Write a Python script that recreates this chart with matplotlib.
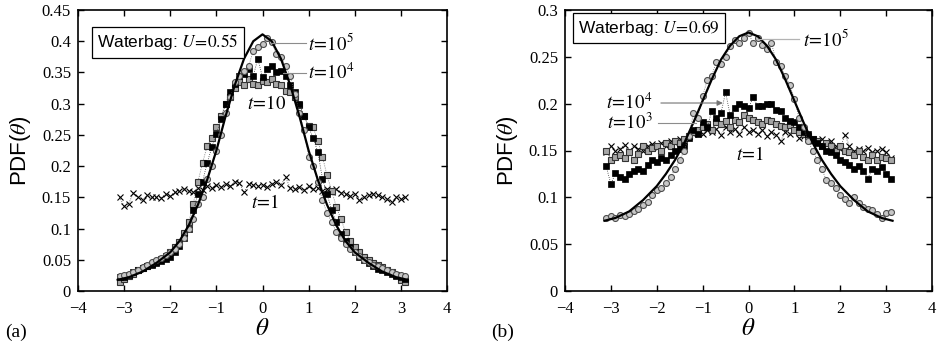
import numpy as np
import matplotlib.pyplot as plt

# theta grid: -3.1 .. 3.1 step 0.1 (63 points)
theta = np.round(np.arange(-31, 32) / 10.0, 2)

# theory curves (solid)
theta_th = [-3.14, -2.9, -2.6, -2.3, -2.0, -1.8, -1.6, -1.4, -1.2, -1.0, -0.8, -0.6, -0.4, -0.2, 0.0,
            0.2, 0.4, 0.6, 0.8, 1.0, 1.2, 1.4, 1.6, 1.8, 2.0, 2.3, 2.6, 2.9, 3.14]
th_a = [0.018, 0.022, 0.031, 0.045, 0.062, 0.080, 0.105, 0.138, 0.178, 0.225, 0.280, 0.330, 0.372, 0.400, 0.411,
        0.400, 0.372, 0.330, 0.280, 0.225, 0.178, 0.138, 0.105, 0.080, 0.062, 0.045, 0.031, 0.022, 0.018]
th_b = [0.075, 0.078, 0.085, 0.097, 0.112, 0.125, 0.140, 0.158, 0.180, 0.203, 0.226, 0.247, 0.262, 0.272, 0.276,
        0.272, 0.262, 0.247, 0.226, 0.203, 0.180, 0.158, 0.140, 0.125, 0.112, 0.097, 0.085, 0.078, 0.075]

# panel (a), U = 0.55
a_t1 = [0.150, 0.136, 0.140, 0.157, 0.150, 0.146, 0.153, 0.150, 0.151, 0.149, 0.155, 0.152, 0.158, 0.160,
        0.163, 0.160, 0.158, 0.165, 0.162, 0.168, 0.165, 0.170, 0.167, 0.172, 0.168, 0.175, 0.173, 0.158,
        0.172, 0.170, 0.168, 0.170, 0.166, 0.172, 0.175, 0.170, 0.182, 0.165, 0.163, 0.167, 0.162, 0.168,
        0.163, 0.165, 0.160, 0.164, 0.158, 0.163, 0.157, 0.155, 0.152, 0.155, 0.145, 0.150, 0.153, 0.155,
        0.153, 0.150, 0.147, 0.143, 0.150, 0.148, 0.150]
a_t10 = [0.015, 0.020, 0.024, 0.028, 0.033, 0.037, 0.040, 0.043, 0.047, 0.052, 0.056, 0.062, 0.070, 0.078,
         0.093, 0.110, 0.140, 0.175, 0.205, 0.232, 0.245, 0.262, 0.280, 0.300, 0.310, 0.325, 0.334, 0.330,
         0.340, 0.332, 0.330, 0.337, 0.335, 0.340, 0.332, 0.330, 0.320, 0.318, 0.310, 0.298, 0.280, 0.265,
         0.262, 0.240, 0.215, 0.185, 0.160, 0.135, 0.115, 0.095, 0.080, 0.070, 0.062, 0.055, 0.050, 0.045,
         0.042, 0.038, 0.034, 0.030, 0.025, 0.018, 0.015]
a_t1e4 = [0.022, 0.023, 0.025, 0.030, 0.033, 0.037, 0.040, 0.042, 0.045, 0.048, 0.052, 0.055, 0.062, 0.072,
          0.085, 0.100, 0.130, 0.155, 0.175, 0.205, 0.230, 0.252, 0.275, 0.300, 0.318, 0.332, 0.345, 0.348,
          0.355, 0.345, 0.372, 0.342, 0.355, 0.360, 0.350, 0.352, 0.345, 0.330, 0.318, 0.300, 0.280, 0.262,
          0.245, 0.222, 0.180, 0.155, 0.130, 0.110, 0.092, 0.080, 0.070, 0.062, 0.055, 0.050, 0.045, 0.040,
          0.036, 0.033, 0.030, 0.027, 0.024, 0.022, 0.020]
a_t1e5 = [0.024, 0.026, 0.028, 0.031, 0.034, 0.038, 0.042, 0.046, 0.050, 0.053, 0.058, 0.062, 0.068, 0.075,
          0.085, 0.100, 0.115, 0.140, 0.150, 0.180, 0.200, 0.225, 0.250, 0.285, 0.310, 0.335, 0.345, 0.352,
          0.360, 0.385, 0.390, 0.395, 0.405, 0.398, 0.380, 0.375, 0.360, 0.345, 0.315, 0.285, 0.258, 0.215,
          0.200, 0.175, 0.145, 0.125, 0.110, 0.095, 0.085, 0.075, 0.068, 0.062, 0.056, 0.050, 0.046, 0.042,
          0.040, 0.037, 0.034, 0.031, 0.028, 0.026, 0.024]

# panel (b), U = 0.69
b_t1 = [0.148, 0.155, 0.150, 0.152, 0.156, 0.150, 0.155, 0.152, 0.150, 0.155, 0.157, 0.153, 0.158, 0.155,
        0.160, 0.158, 0.162, 0.160, 0.165, 0.168, 0.170, 0.168, 0.172, 0.170, 0.173, 0.167, 0.175, 0.170,
        0.173, 0.168, 0.175, 0.170, 0.172, 0.168, 0.172, 0.165, 0.170, 0.167, 0.160, 0.170, 0.168, 0.172,
        0.163, 0.165, 0.162, 0.160, 0.158, 0.162, 0.158, 0.160, 0.155, 0.152, 0.167, 0.155, 0.150, 0.152,
        0.150, 0.153, 0.148, 0.150, 0.152, 0.148, 0.142]
b_t1e3 = [0.150, 0.140, 0.143, 0.145, 0.142, 0.148, 0.140, 0.146, 0.155, 0.150, 0.153, 0.155, 0.150, 0.158,
          0.155, 0.160, 0.158, 0.162, 0.165, 0.170, 0.172, 0.175, 0.178, 0.172, 0.180, 0.178, 0.182, 0.175,
          0.183, 0.180, 0.188, 0.185, 0.183, 0.180, 0.178, 0.183, 0.182, 0.178, 0.176, 0.175, 0.177, 0.172,
          0.170, 0.168, 0.165, 0.162, 0.160, 0.155, 0.158, 0.155, 0.150, 0.155, 0.150, 0.148, 0.145, 0.150,
          0.143, 0.140, 0.145, 0.140, 0.143, 0.142, 0.140]
b_t1e4 = [0.133, 0.114, 0.126, 0.122, 0.120, 0.125, 0.128, 0.130, 0.128, 0.135, 0.140, 0.138, 0.142, 0.140,
          0.145, 0.150, 0.152, 0.155, 0.163, 0.172, 0.168, 0.180, 0.175, 0.192, 0.185, 0.190, 0.212, 0.188,
          0.195, 0.200, 0.198, 0.195, 0.207, 0.197, 0.198, 0.200, 0.200, 0.193, 0.192, 0.185, 0.182, 0.180,
          0.175, 0.170, 0.168, 0.162, 0.158, 0.155, 0.150, 0.148, 0.145, 0.140, 0.138, 0.135, 0.130, 0.133,
          0.128, 0.120, 0.130, 0.128, 0.132, 0.125, 0.120]
b_t1e5 = [0.078, 0.080, 0.078, 0.081, 0.080, 0.082, 0.085, 0.088, 0.092, 0.095, 0.102, 0.108, 0.110, 0.115,
          0.122, 0.130, 0.140, 0.150, 0.165, 0.190, 0.185, 0.208, 0.225, 0.230, 0.245, 0.242, 0.250, 0.262,
          0.268, 0.265, 0.270, 0.275, 0.265, 0.270, 0.263, 0.258, 0.265, 0.245, 0.240, 0.230, 0.220, 0.205,
          0.185, 0.175, 0.160, 0.150, 0.140, 0.130, 0.118, 0.115, 0.110, 0.102, 0.098, 0.094, 0.100, 0.094,
          0.090, 0.088, 0.086, 0.082, 0.078, 0.083, 0.084]

plt.rcParams['mathtext.fontset'] = 'stix'
plt.rcParams['font.family'] = 'Liberation Serif'
plt.rcParams['xtick.direction'] = 'in'
plt.rcParams['ytick.direction'] = 'in'

W, H = 938, 348
fig = plt.figure(figsize=(W / 100, H / 100), dpi=100)


def series(ax, y, kind):
    if kind == 'x':
        ax.plot(theta, y, ls=':', lw=0.6, color='0.3', marker='x', ms=4.2, mew=0.8, mec='k')
    elif kind == 'gsq':
        ax.plot(theta, y, ls=':', lw=0.6, color='0.4', marker='s', ms=4.5, mew=0.8,
                mfc='0.65', mec='0.2')
    elif kind == 'bsq':
        ax.plot(theta, y, ls=':', lw=0.6, color='0.2', marker='s', ms=4.7, mew=0.5,
                mfc='k', mec='k')
    elif kind == 'circ':
        ax.plot(theta, y, ls=':', lw=0.6, color='0.4', marker='o', ms=4.3, mew=0.8,
                mfc='0.78', mec='0.3')


def style(ax, ymax, ystep):
    ax.set_xlim(-4, 4)
    ax.set_ylim(0, ymax)
    ax.set_xticks(np.arange(-4, 5, 1))
    ax.set_yticks(np.round(np.arange(0, ymax + 1e-9, ystep), 3))
    ax.set_yticklabels(['0'] + ['%g' % v for v in np.round(np.arange(ystep, ymax + 1e-9, ystep), 3)])
    ax.tick_params(top=True, right=True, length=4, width=1, labelsize=12)
    ax.tick_params(axis='x', pad=7)
    ax.tick_params(axis='y', pad=5)
    for s in ax.spines.values():
        s.set_linewidth(1.2)
    ax.set_xlabel(r'$\theta$', fontsize=18, labelpad=1)
    ax.set_ylabel(r'PDF($\theta$)', fontsize=16, family='Liberation Sans', labelpad=6)


# (a)
ax1 = fig.add_axes([78 / W, 57 / H, 369 / W, 281 / H])
series(ax1, a_t1, 'x')
series(ax1, a_t10, 'gsq')
series(ax1, a_t1e4, 'bsq')
series(ax1, a_t1e5, 'circ')
ax1.plot(theta_th, th_a, color='k', lw=1.6)
style(ax1, 0.45, 0.05)
ax1.text(-3.58, 0.398, r'Waterbag: $U\!=\!0.55$', family='Liberation Sans', fontsize=12.5,
         va='center', ha='left',
         bbox=dict(boxstyle='square,pad=0.3', fc='white', ec='k', lw=0.9))
ax1.plot([0.16, 0.95], [0.397, 0.397], color='0.55', lw=0.8)
ax1.plot([0.45, 0.95], [0.349, 0.349], color='0.55', lw=0.8)
ax1.text(0.99, 0.397, r'$t\!=\!10^5$', fontsize=13.5, va='center', ha='left')
ax1.text(0.99, 0.349, r'$t\!=\!10^4$', fontsize=13.5, va='center', ha='left')
ax1.text(0.1, 0.300, r'$t\!=\!10$', fontsize=13.5, va='center', ha='center')
ax1.text(0.05, 0.141, r'$t\!=\!1$', fontsize=13.5, va='center', ha='center')
fig.text(5 / W, 1 - 332 / H, '(a)', fontsize=14, va='center', ha='left')

# (b)
ax2 = fig.add_axes([565 / W, 57 / H, 367 / W, 281 / H])
series(ax2, b_t1, 'x')
series(ax2, b_t1e3, 'gsq')
series(ax2, b_t1e4, 'bsq')
series(ax2, b_t1e5, 'circ')
ax2.plot(theta_th, th_b, color='k', lw=1.6)
style(ax2, 0.3, 0.05)
ax2.text(-3.72, 0.2805, r'Waterbag: $U\!=\!0.69$', family='Liberation Sans', fontsize=12.5,
         va='center', ha='left',
         bbox=dict(boxstyle='square,pad=0.3', fc='white', ec='k', lw=0.9))
ax2.plot([0.21, 1.1], [0.269, 0.269], color='0.7', lw=0.9)
ax2.text(1.19, 0.269, r'$t\!=\!10^5$', fontsize=13.5, va='center', ha='left')
ax2.annotate('', xy=(-0.5, 0.2007), xytext=(-1.97, 0.2007),
             arrowprops=dict(arrowstyle='-|>', color='0.45', lw=0.8, mutation_scale=8))
ax2.plot([-1.97, -1.15], [0.179, 0.179], color='0.55', lw=0.8)
ax2.text(-2.1, 0.2007, r'$t\!=\!10^4$', fontsize=13.5, va='center', ha='right')
ax2.text(-2.1, 0.179, r'$t\!=\!10^3$', fontsize=13.5, va='center', ha='right')
ax2.text(0.03, 0.145, r'$t\!=\!1$', fontsize=13.5, va='center', ha='center')
fig.text(491 / W, 1 - 332 / H, '(b)', fontsize=14, va='center', ha='left')

fig.savefig('out.png', dpi=100)
